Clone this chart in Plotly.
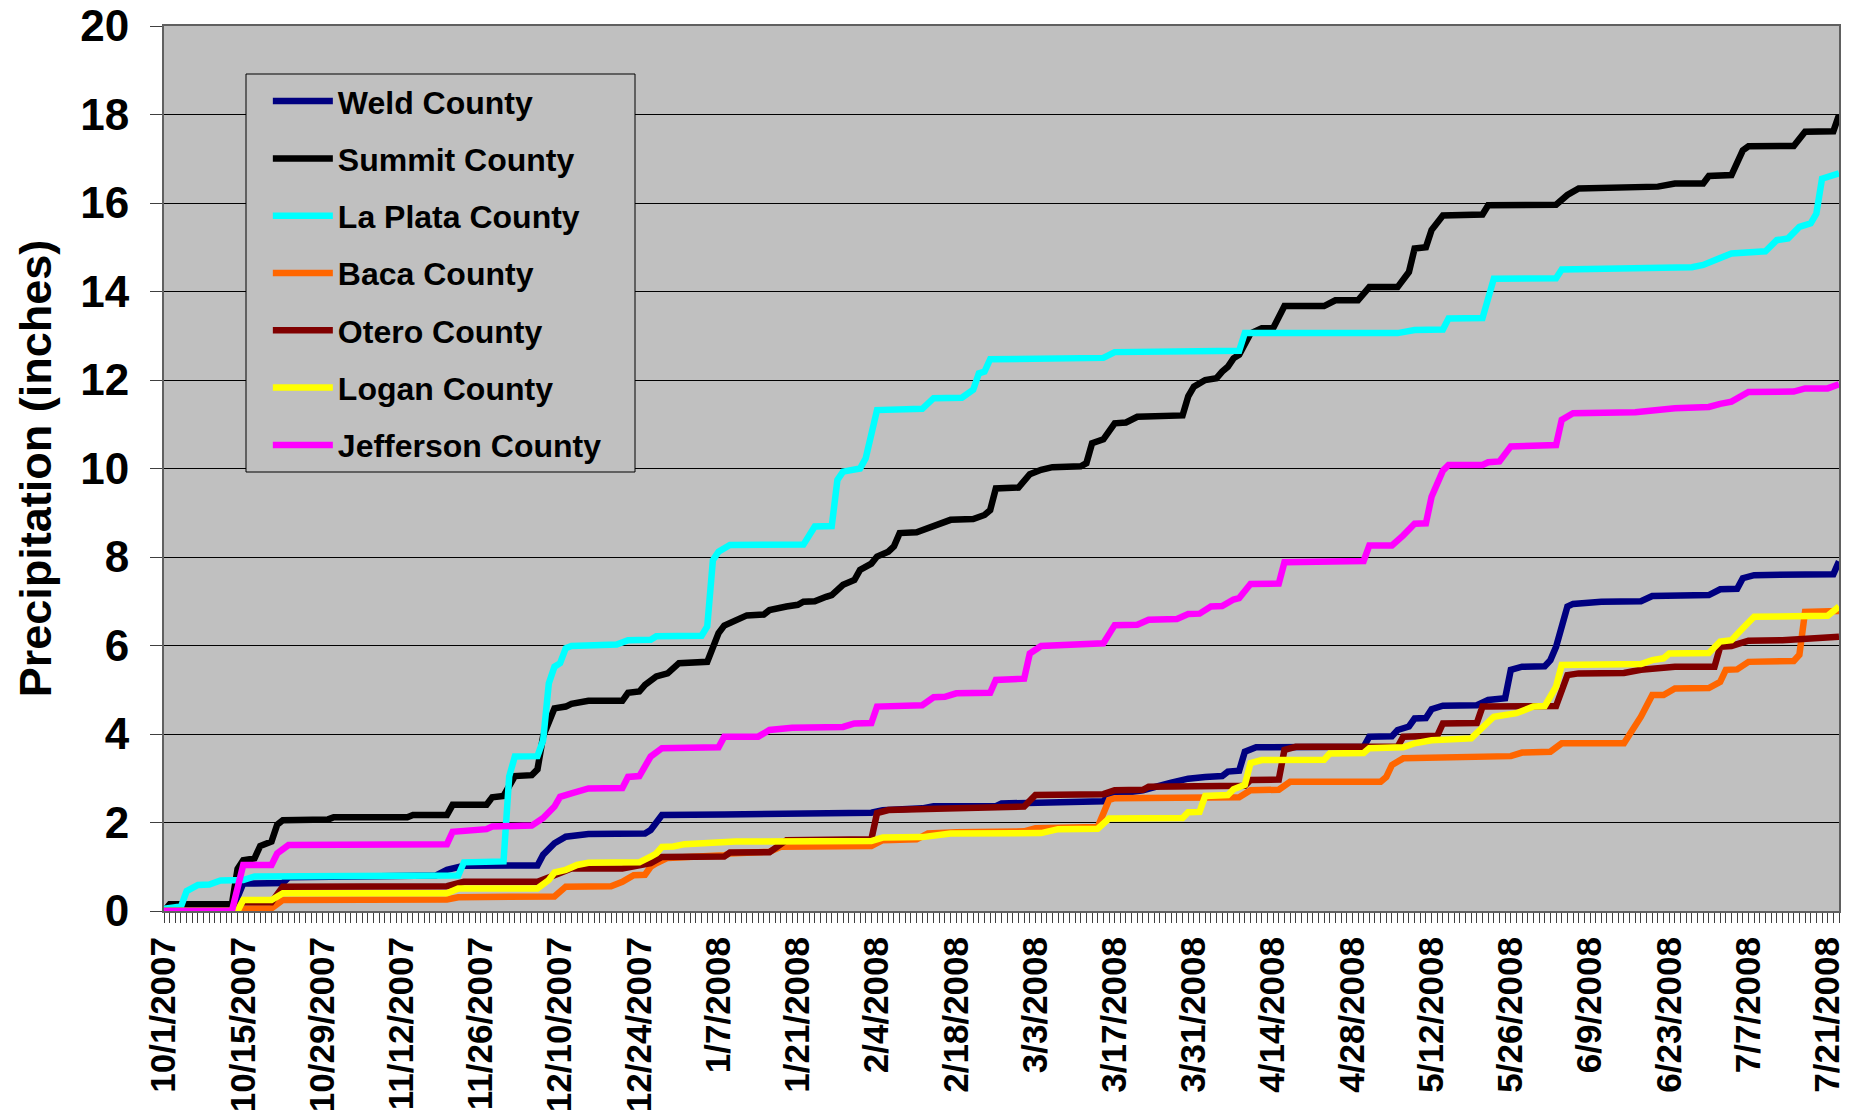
import pandas as pd
import plotly.graph_objects as go

# Season start; each series is stored as day-offset / cumulative-inches pairs
SEASON_START = "2007-10-01"
SEASON_END = "2008-07-23"

weld_day = [0, 12, 14, 21, 22, 48, 50, 53, 66, 67, 69, 71, 75, 85, 86, 88, 99, 125, 127, 134, 136,
            147, 148, 153, 155, 166, 167, 173, 178, 181, 184, 187, 188, 190, 191, 193, 212, 213, 217,
            218, 220, 221, 223, 224, 226, 232, 234, 237, 238, 240, 244, 245, 246, 248, 249, 254, 261,
            263, 273, 275, 278, 279, 281, 295, 296]
weld_in = [0.0, 0.0, 0.62, 0.63, 0.76, 0.80, 0.93, 1.02, 1.03, 1.27, 1.53, 1.68, 1.74, 1.75, 1.83, 2.17,
           2.18, 2.22, 2.28, 2.32, 2.37, 2.37, 2.43, 2.44, 2.47, 2.48, 2.62, 2.73, 2.90, 2.99, 3.03, 3.05,
           3.15, 3.17, 3.60, 3.70, 3.71, 3.94, 3.95, 4.09, 4.17, 4.35, 4.36, 4.56, 4.64, 4.65, 4.77, 4.81,
           5.45, 5.52, 5.53, 5.67, 5.97, 6.88, 6.94, 6.99, 7.00, 7.12, 7.14, 7.27, 7.28, 7.52, 7.59, 7.61,
           7.90]

summit_day = [0, 1, 12, 13, 14, 16, 17, 19, 20, 21, 29, 30, 43, 44, 50, 51, 57, 58, 60, 62, 65, 66, 67,
              69, 71, 72, 75, 81, 82, 84, 85, 87, 89, 91, 96, 98, 99, 101, 103, 106, 107, 110, 112, 113,
              115, 117, 118, 120, 122, 123, 125, 126, 128, 129, 130, 133, 134, 136, 137, 139, 143, 145,
              146, 147, 151, 153, 155, 157, 162, 163, 164, 166, 168, 170, 172, 180, 181, 182, 184, 186,
              187, 188, 189, 190, 192, 194, 196, 198, 205, 207, 211, 213, 218, 220, 221, 223, 224, 226,
              233, 234, 246, 248, 250, 264, 267, 272, 273, 277, 279, 280, 288, 290, 295, 296]
summit_in = [0.0, 0.15, 0.15, 0.95, 1.15, 1.19, 1.47, 1.57, 1.95, 2.05, 2.07, 2.12, 2.12, 2.17, 2.17,
             2.40, 2.40, 2.57, 2.60, 3.05, 3.07, 3.20, 3.95, 4.58, 4.62, 4.68, 4.75, 4.75, 4.93, 4.96,
             5.11, 5.30, 5.37, 5.60, 5.63, 6.28, 6.45, 6.58, 6.68, 6.70, 6.80, 6.88, 6.92, 6.99, 7.00,
             7.10, 7.14, 7.37, 7.48, 7.71, 7.85, 8.01, 8.12, 8.24, 8.54, 8.56, 8.61, 8.69, 8.76, 8.84,
             8.86, 8.95, 9.06, 9.55, 9.57, 9.87, 9.97, 10.03, 10.05, 10.12, 10.57, 10.66, 11.02, 11.04,
             11.17, 11.20, 11.63, 11.85, 12.00, 12.04, 12.19, 12.30, 12.49, 12.57, 13.05, 13.17, 13.17,
             13.67, 13.67, 13.80, 13.80, 14.10, 14.10, 14.44, 14.97, 15.00, 15.39, 15.72, 15.74, 15.95,
             15.96, 16.18, 16.33, 16.37, 16.44, 16.44, 16.61, 16.63, 17.19, 17.28, 17.29, 17.61, 17.62,
             17.99]

laplata_day = [0, 3, 4, 6, 8, 10, 14, 16, 52, 53, 60, 61, 62, 66, 67, 68, 69, 70, 71, 72, 80, 82, 86,
               87, 95, 96, 97, 98, 100, 113, 115, 118, 119, 120, 123, 124, 126, 134, 136, 141, 143, 144,
               145, 146, 166, 168, 190, 191, 218, 221, 226, 227, 233, 234, 235, 246, 247, 270, 272, 276,
               277, 283, 285, 287, 289, 291, 292, 293, 296]
laplata_in = [0.05, 0.10, 0.45, 0.59, 0.60, 0.69, 0.70, 0.78, 0.80, 1.10, 1.12, 3.04, 3.49, 3.50, 3.86,
              5.14, 5.52, 5.60, 5.94, 5.99, 6.02, 6.12, 6.13, 6.21, 6.22, 6.43, 7.93, 8.12, 8.27, 8.28,
              8.69, 8.70, 9.74, 9.93, 10.00, 10.23, 11.32, 11.35, 11.59, 11.60, 11.78, 12.15, 12.19, 12.47,
              12.50, 12.63, 12.66, 13.06, 13.06, 13.13, 13.14, 13.39, 13.40, 13.80, 14.29, 14.30, 14.50,
              14.55, 14.60, 14.81, 14.86, 14.91, 15.16, 15.20, 15.46, 15.54, 15.76, 16.55, 16.67]

baca_day = [0, 13, 14, 19, 21, 50, 52, 69, 71, 79, 81, 82, 83, 85, 86, 87, 89, 99, 100, 107, 109, 125,
            127, 133, 135, 140, 152, 154, 165, 167, 168, 190, 192, 197, 199, 215, 216, 217, 219, 238,
            240, 245, 247, 258, 260, 261, 263, 265, 267, 273, 275, 276, 278, 280, 288, 289, 290, 296]
baca_in = [0.0, 0.0, 0.05, 0.06, 0.25, 0.26, 0.31, 0.33, 0.55, 0.56, 0.66, 0.74, 0.81, 0.82, 1.00, 1.08,
           1.20, 1.26, 1.30, 1.34, 1.45, 1.47, 1.60, 1.62, 1.75, 1.78, 1.80, 1.87, 1.90, 2.51, 2.55, 2.57,
           2.73, 2.74, 2.92, 2.92, 3.03, 3.30, 3.45, 3.50, 3.58, 3.60, 3.79, 3.79, 4.17, 4.39, 4.88, 4.88,
           5.03, 5.04, 5.18, 5.45, 5.46, 5.63, 5.65, 5.79, 6.76, 6.78]

otero_day = [0, 12, 14, 19, 21, 50, 53, 66, 69, 72, 81, 86, 88, 99, 100, 107, 110, 125, 126, 128, 133,
             146, 152, 154, 166, 168, 173, 174, 191, 192, 197, 198, 200, 218, 219, 225, 226, 232, 233,
             246, 248, 250, 258, 261, 267, 274, 275, 277, 280, 286, 296]
otero_in = [0.0, 0.0, 0.20, 0.20, 0.55, 0.56, 0.66, 0.66, 0.81, 0.96, 0.96, 1.08, 1.22, 1.23, 1.32, 1.33,
            1.60, 1.62, 2.21, 2.28, 2.30, 2.32, 2.36, 2.62, 2.64, 2.73, 2.74, 2.81, 2.83, 2.96, 2.97,
            3.64, 3.71, 3.71, 3.94, 3.96, 4.24, 4.25, 4.62, 4.63, 5.33, 5.37, 5.38, 5.45, 5.52, 5.52,
            5.97, 5.99, 6.11, 6.12, 6.20]

logan_day = [0, 13, 14, 19, 21, 50, 52, 66, 68, 69, 71, 73, 75, 84, 86, 87, 88, 90, 92, 99, 101, 125,
             127, 134, 139, 155, 158, 165, 167, 180, 181, 183, 184, 188, 189, 191, 192, 194, 205, 206,
             212, 213, 219, 221, 224, 231, 233, 235, 239, 242, 244, 246, 247, 261, 263, 265, 266, 273,
             275, 277, 279, 281, 294, 296]
logan_in = [0.0, 0.0, 0.25, 0.25, 0.40, 0.40, 0.51, 0.51, 0.70, 0.87, 0.93, 1.04, 1.09, 1.10, 1.23, 1.30,
            1.45, 1.46, 1.51, 1.53, 1.57, 1.58, 1.66, 1.67, 1.75, 1.76, 1.85, 1.86, 2.09, 2.10, 2.23,
            2.24, 2.60, 2.62, 2.75, 2.85, 3.34, 3.41, 3.42, 3.56, 3.57, 3.68, 3.70, 3.79, 3.86, 3.90,
            4.17, 4.39, 4.47, 4.62, 4.63, 5.07, 5.56, 5.58, 5.67, 5.71, 5.82, 5.83, 6.09, 6.12, 6.39,
            6.65, 6.67, 6.88]

jefferson_day = [0, 12, 14, 19, 20, 22, 50, 51, 57, 58, 65, 67, 69, 70, 72, 75, 81, 82, 84, 86, 88, 98,
                 99, 105, 107, 111, 120, 122, 125, 126, 134, 136, 138, 140, 146, 147, 152, 153, 155, 166,
                 168, 172, 174, 179, 181, 183, 185, 187, 189, 190, 192, 197, 198, 212, 213, 217, 219,
                 221, 223, 224, 226, 227, 233, 234, 236, 238, 246, 247, 249, 260, 267, 273, 275, 277,
                 280, 288, 290, 294, 296]
jefferson_in = [0.0, 0.0, 1.04, 1.04, 1.30, 1.49, 1.51, 1.79, 1.85, 1.91, 1.93, 2.10, 2.36, 2.58, 2.66,
                2.77, 2.78, 3.03, 3.05, 3.49, 3.68, 3.70, 3.94, 3.94, 4.09, 4.14, 4.16, 4.24, 4.25, 4.62,
                4.65, 4.83, 4.84, 4.92, 4.93, 5.22, 5.25, 5.82, 5.99, 6.05, 6.46, 6.47, 6.58, 6.60, 6.71,
                6.72, 6.88, 6.89, 7.04, 7.07, 7.39, 7.40, 7.88, 7.91, 8.26, 8.26, 8.49, 8.75, 8.76, 9.36,
                9.95, 10.08, 10.08, 10.14, 10.16, 10.50, 10.53, 11.10, 11.25, 11.27, 11.36, 11.39, 11.46,
                11.51, 11.73, 11.74, 11.81, 11.81, 11.90]

series = [
    ("Weld County", weld_day, weld_in, "#000080"),
    ("Summit County", summit_day, summit_in, "#000000"),
    ("La Plata County", laplata_day, laplata_in, "#00FFFF"),
    ("Baca County", baca_day, baca_in, "#FF6600"),
    ("Otero County", otero_day, otero_in, "#800000"),
    ("Logan County", logan_day, logan_in, "#FFFF00"),
    ("Jefferson County", jefferson_day, jefferson_in, "#FF00FF"),
]

FONT = "Liberation Sans, Arial, sans-serif"
start = pd.Timestamp(SEASON_START)
DAY_MS = 86400000

fig = go.Figure()
for name, days, vals, color in series:
    fig.add_trace(go.Scatter(
        x=start + pd.to_timedelta(days, unit="D"),
        y=vals,
        mode="lines",
        name=name,
        legendgroup=name,
        line=dict(color=color, width=6.5),
    ))

fig.update_layout(
    width=1852,
    height=1117,
    margin=dict(l=164, r=13, t=26, b=206, autoexpand=False),
    paper_bgcolor="white",
    plot_bgcolor="#C0C0C0",
    font=dict(family=FONT, color="black"),
    showlegend=True,
    legend=dict(
        x=0.062, y=0.946, xanchor="left", yanchor="top",
        bgcolor="rgba(0,0,0,0)", borderwidth=0,
        font=dict(family=FONT, size=32, weight="bold", color="black"),
        tracegroupgap=12.7, itemwidth=60,
    ),
    # legend frame, drawn over the grid lines
    shapes=[dict(
        type="rect", xref="paper", yref="paper",
        x0=(246 - 164) / 1675, x1=(635 - 164) / 1675,
        y0=(911 - 472) / 885, y1=(911 - 74) / 885,
        line=dict(color="black", width=1), fillcolor="#C0C0C0", layer="above",
    )],
)

fig.update_xaxes(
    type="date",
    range=[SEASON_START, SEASON_END],
    tick0=SEASON_START,
    dtick=14 * DAY_MS,
    tickformat="%-m/%-d/%Y",
    tickangle=-90,
    ticks="outside", ticklen=10, tickcolor="#404040",
    tickfont=dict(family=FONT, size=35, weight="bold", color="black"),
    minor=dict(dtick=DAY_MS, tick0=SEASON_START, ticks="outside", ticklen=10,
               tickcolor="#404040", showgrid=False),
    showgrid=False,
    showline=True, linecolor="#606060", linewidth=2, mirror=True,
    zeroline=False,
    automargin=False,
)

fig.update_yaxes(
    range=[0, 20],
    dtick=2,
    ticks="outside", ticklen=12, tickcolor="#404040",
    ticklabelstandoff=12,
    tickfont=dict(family=FONT, size=44, weight="bold", color="black"),
    showgrid=True, gridcolor="black", gridwidth=1,
    showline=True, linecolor="#606060", linewidth=2, mirror=True,
    zeroline=False,
    automargin=False,
    title=dict(text="Precipitation (inches)", standoff=14,
               font=dict(family=FONT, size=45, weight="bold", color="black")),
)

fig.write_html("out.html", post_script="document.body.style.margin = '0px';")
